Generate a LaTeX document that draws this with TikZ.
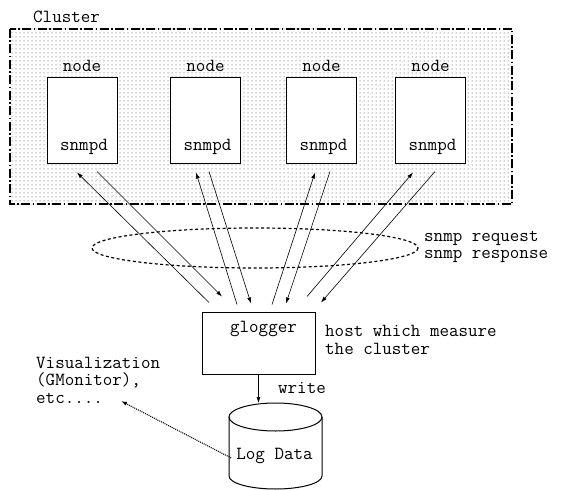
\documentclass[tikz,border=0pt]{standalone}
\usepackage{fontspec}
\usepackage{tikz}
\usetikzlibrary{arrows.meta,patterns.meta}

\tikzdeclarepattern{
  name=clusterdots,
  type=uncolored,
  bottom left={(-.5pt,-.5pt)},
  top right={(3.5pt,3.5pt)},
  tile size={(4pt,4pt)},
  code={\fill (0,0) circle[radius=.5pt];}
}

\begin{document}
\begin{tikzpicture}[x=1pt,y=-1pt,
  every node/.style={font=\ttfamily\fontsize{18.5}{17.5}\selectfont,inner sep=0pt},
  host/.style={draw,line width=1pt,fill=white,minimum width=70pt,minimum height=85pt},
  msg/.style={line width=.6pt,-{Latex[length=6pt,width=4pt]}}]
\useasboundingbox (0,0) rectangle (561,489);
% the cluster
\draw[pattern=clusterdots,pattern color=black!80,line width=2pt,
      dash pattern=on 9pt off 2.5pt on 1.5pt off 2.5pt] (10,29) rectangle (512,204);
\node[anchor=west] (cluster) at (33,17) {Cluster};
\node[host] (n1) at (82,120.5) {};
\node[host] (n2) at (205.5,120.5) {};
\node[host] (n3) at (321.5,120.5) {};
\node[host] (n4) at (430.5,120.5) {};
\node (lbl1) at (82,66) {node};
\node (lbl2) at (205.5,66) {node};
\node (lbl3) at (321.5,66) {node};
\node (lbl4) at (430.5,66) {node};
\node (d1) at (84,147) {snmpd};
\node (d2) at (207.5,147) {snmpd};
\node (d3) at (323.5,147) {snmpd};
\node (d4) at (432.5,147) {snmpd};
% the measuring host
\node[draw,line width=1pt,minimum width=113pt,minimum height=62pt] (glog) at (258.5,343) {};
\node (glogtxt) at (263.5,329) {glogger};
\node[anchor=west,align=left] (hosttxt) at (325,340) {host which measure\\the cluster};
% requests and responses
\draw[line width=1.2pt,dash pattern=on 3pt off 2.5pt] (255,248) ellipse (163 and 20);
\node[anchor=west,align=left] (snmptxt) at (424,247) {snmp request\\snmp response};
\draw[msg] ([xshift=-49.5pt,yshift=9pt]glog.north) -- ([xshift=-5pt,yshift=-9pt]n1.south);
\draw[msg] ([xshift=15pt,yshift=-8pt]n1.south) -- ([xshift=-36.5pt,yshift=15pt]glog.north);
\draw[msg] ([xshift=-21.5pt,yshift=7pt]glog.north) -- ([xshift=-9.5pt,yshift=-9pt]n2.south);
\draw[msg] ([xshift=3.5pt,yshift=-8pt]n2.south) -- ([xshift=-7.5pt,yshift=8pt]glog.north);
\draw[msg] ([xshift=13.5pt,yshift=7pt]glog.north) -- ([xshift=-6.5pt,yshift=-9pt]n3.south);
\draw[msg] ([xshift=8.5pt,yshift=-8pt]n3.south) -- ([xshift=27.5pt,yshift=8pt]glog.north);
\draw[msg] ([xshift=48.5pt,yshift=15pt]glog.north) -- ([xshift=-17.5pt,yshift=-9pt]n4.south);
\draw[msg] ([xshift=4.5pt,yshift=-8pt]n4.south) -- ([xshift=62.5pt,yshift=9pt]glog.north);
% log data
\draw[line width=1pt] (275.5,417) ellipse (46.5 and 14);
\draw[line width=1pt] (229,417) -- (229,476) arc (180:0:46.5 and 13) -- (322,417);
\coordinate (dbtop) at (258.5,403);
\node (logdata) at (274.5,456) {Log Data};
\draw[msg] (glog.south) -- (dbtop);
\node (write) at (302,388) {write};
% visualization
\node[anchor=west,align=left] (viz) at (36,380) {Visualization\\(GMonitor),\\etc....};
\coordinate (vizend) at (121,401);
\draw[msg,line width=1.1pt,dash pattern=on 1pt off 1pt] ([xshift=-5pt,yshift=-2pt]logdata.west) -- (vizend);
\end{tikzpicture}
\end{document}
